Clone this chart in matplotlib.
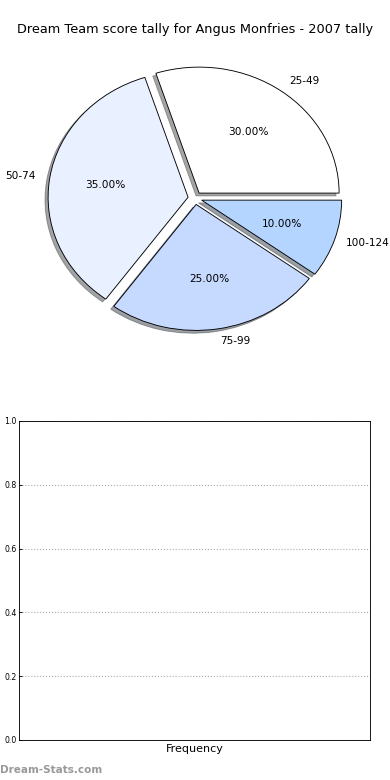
import matplotlib
matplotlib.use("Agg")
import matplotlib.pyplot as plt

# data
labels = ["25-49", "50-74", "75-99", "100-124"]
shares = [30, 35, 25, 10]
colors = ["#ffffff", "#e9f0ff", "#c6d9ff", "#b3d5ff"]
explode = [0.05, 0.05, 0.05, 0.05]

title = "Dream Team score tally for Angus Monfries - 2007 tally"
yticks = [0.0, 0.2, 0.4, 0.6, 0.8, 1.0]

fig = plt.figure(figsize=(4.875, 9.75), dpi=80)

# pie (old style: not forced to a circle, so it comes out a bit squashed)
ax = fig.add_axes([0.0, 0.5440, 1.0, 0.4038])
wedges, texts, autotexts = ax.pie(
    shares, labels=labels, colors=colors, explode=explode,
    autopct="%1.2f%%", shadow=True, startangle=0,
    wedgeprops={"edgecolor": "black", "linewidth": 0.8},
    textprops={"fontsize": 9.5},
)
# keep the rightmost label inside the figure
texts[3].set_x(texts[3].get_position()[0] - 0.015)
ax.set_aspect("auto")
ax.set_xlim(-1.393, 1.393)
ax.set_ylim(-1.25, 1.25)
ax.axis("off")

fig.text(0.5, 1 - 30 / 780, title, ha="center", va="center", fontsize=11.6)

# empty frequency panel
ax2 = fig.add_axes([0.0487, 0.0513, 0.9, 0.409])
ax2.set_ylim(0, 1)
ax2.set_yticks(yticks)
ax2.set_yticklabels([f"{v:.1f}" for v in yticks], fontsize=7)
ax2.set_xticks([])
ax2.tick_params(axis="y", direction="in", length=3, pad=2)
ax2.yaxis.grid(True, linestyle=":", color="#aaaaaa", linewidth=1)
ax2.set_xlabel("Frequency", fontsize=10, labelpad=4)

fig.text(0.0, 1 - 770 / 780, "Dream-Stats.com", ha="left", va="center",
         fontsize=9.4, fontweight="bold", color="#999999")

fig.savefig("out.png", dpi=80)
